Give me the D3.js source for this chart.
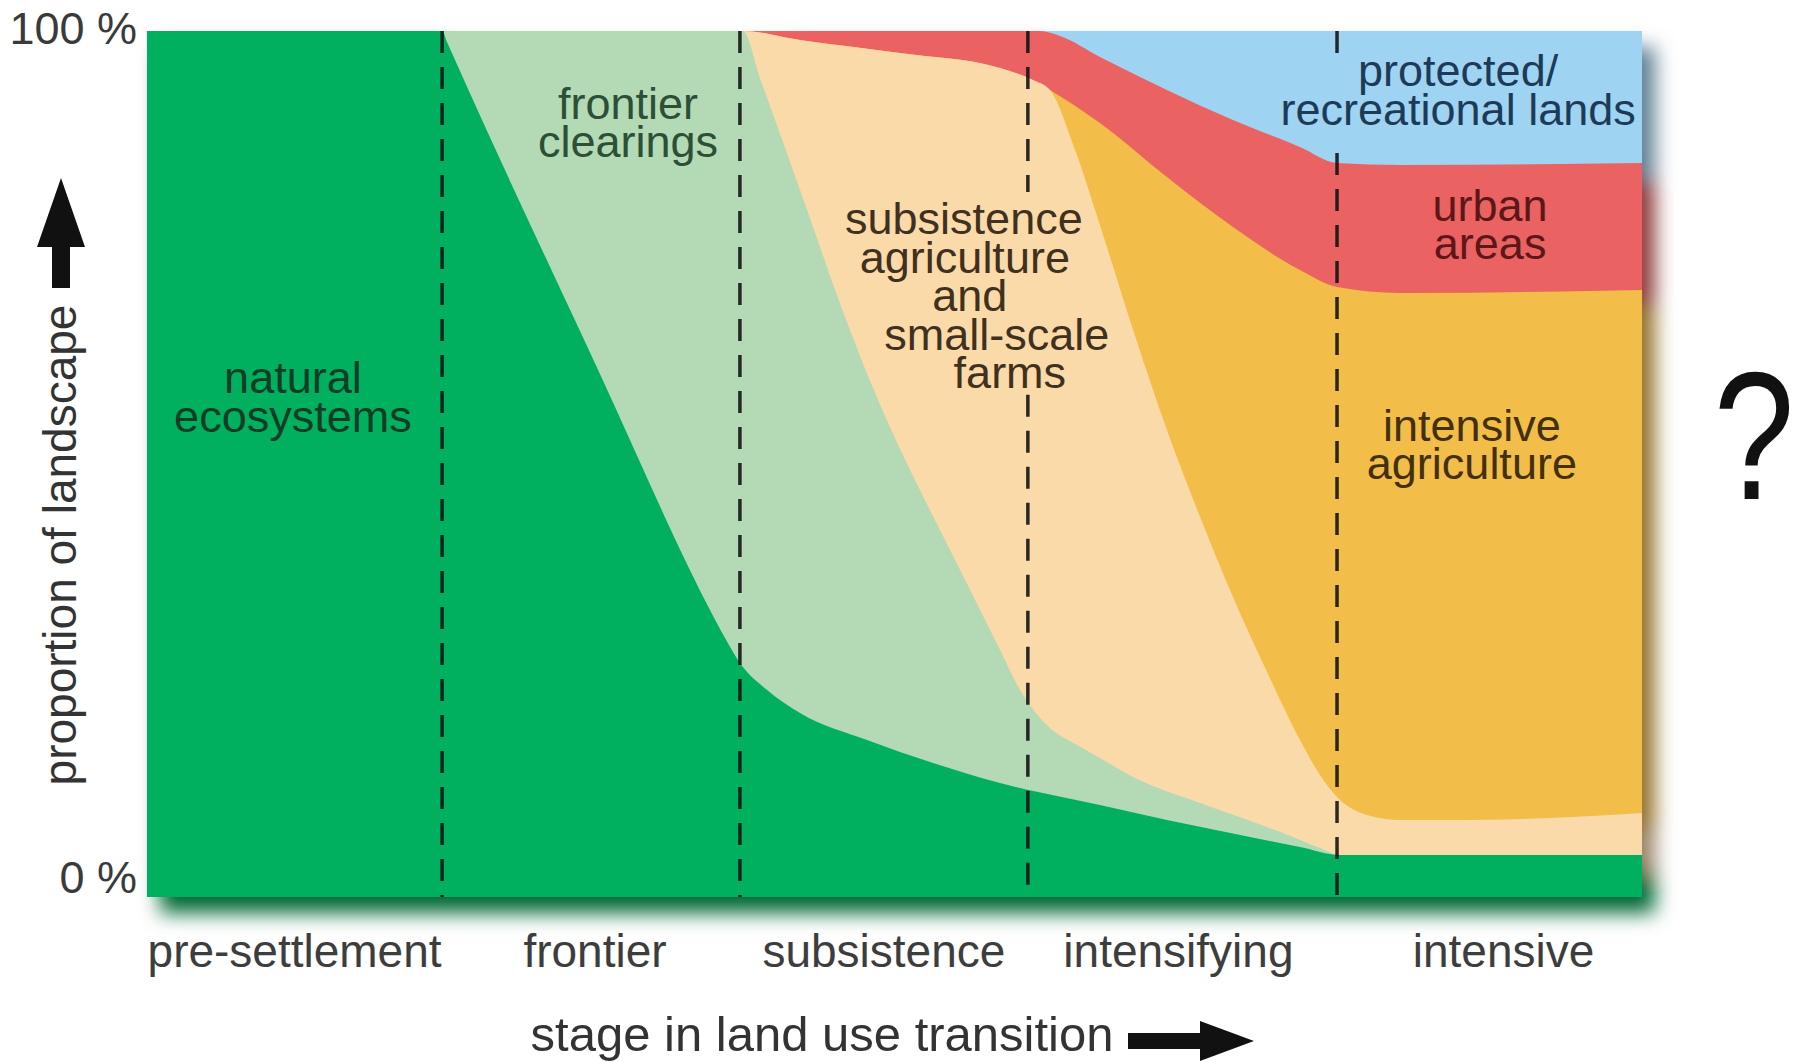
<!DOCTYPE html>
<html>
<head>
<meta charset="utf-8">
<script src="https://cdn.jsdelivr.net/npm/d3@7"></script>
<style>
  html, body { margin: 0; padding: 0; background: #ffffff; }
  svg { display: block; }
  text { font-family: "Liberation Sans", Arial, Helvetica, sans-serif; }
</style>
</head>
<body>
<svg id="chart" width="1800" height="1062"></svg>
<script>
// ---------------- DATA ----------------
// x: position along the land-use transition (0..5, one unit per stage)
// y: cumulative share of the landscape (%) at the top of each layer
const stages = ["pre-settlement", "frontier", "subsistence", "intensifying", "intensive"];
const stageDividers = [0.987, 1.983, 2.946, 3.98];

const yTickValues = [0, 100];

const layerNames = ["protected/recreational lands", "urban areas", "intensive agriculture",
                    "subsistence agriculture and small-scale farms", "frontier clearings", "natural ecosystems"];

const protectedTop = [[0, 100], [5, 100]];

const urbanTop = [[0, 100], [2.987, 100], [3.054, 99.42], [3.187, 97.0], [3.411, 93.19], [3.632, 89.72],
                  [3.856, 86.61], [3.98, 84.76], [4.191, 84.53], [5, 84.76]];

const intensiveTop = [[0, 100], [1.993, 100], [2.184, 98.96], [2.518, 97.46], [2.853, 95.73], [2.963, 94.34],
                      [3.02, 93.19], [3.187, 89.38], [3.411, 83.14], [3.632, 77.37], [3.856, 72.4],
                      [3.98, 70.44], [4.191, 69.75], [5, 70.09]];

const subsistenceTop = [[0, 100], [1.993, 100], [2.184, 98.96], [2.518, 97.46], [2.853, 95.73], [2.963, 94.34],
                        [3.02, 93.19], [3.104, 86.26], [3.187, 77.6], [3.298, 65.47], [3.411, 53.93],
                        [3.522, 43.88], [3.632, 34.64], [3.746, 25.98], [3.856, 18.13], [3.923, 14.09],
                        [3.98, 11.55], [4.08, 9.47], [4.191, 8.89], [4.415, 8.89], [4.692, 9.12], [5, 9.7]];

const frontierTop = [[0, 100], [1.993, 100], [2.05, 94.57], [2.184, 81.64], [2.351, 65.47], [2.452, 56.81],
                     [2.552, 49.31], [2.652, 42.38], [2.753, 35.45], [2.853, 28.52], [2.92, 23.9],
                     [2.97, 21.36], [3.02, 19.52], [3.104, 17.67], [3.187, 16.05], [3.298, 13.86],
                     [3.522, 10.85], [3.799, 7.39], [3.923, 5.66], [3.99, 4.85], [5, 4.85]];

const naturalTop = [[0, 100], [0.987, 100], [1.003, 98.75], [1.515, 60.4], [1.883, 33.14], [1.933, 29.9],
                    [1.983, 27.02], [2.074, 23.9], [2.184, 21.25], [2.408, 18.13], [2.629, 15.47],
                    [2.853, 13.16], [3.187, 10.62], [3.411, 8.89], [3.689, 6.93], [3.856, 5.77],
                    [3.99, 4.85], [5, 4.85]];

const layerTops = [protectedTop, urbanTop, intensiveTop, subsistenceTop, frontierTop, naturalTop];

// label texts (one entry per line)
const naturalLabel = ["natural", "ecosystems"];
const frontierLabel = ["frontier", "clearings"];
const subsistenceLabel = ["subsistence", "agriculture", "and", "small-scale", "farms"];
const intensiveLabel = ["intensive", "agriculture"];
const urbanLabel = ["urban", "areas"];
const protectedLabel = ["protected/", "recreational lands"];

// parts of the divider lines hidden behind labels ([from %, to %])
const dividerGaps = [[], [], [[58.0, 81.4]], [[85.9, 96.4]]];

// ---------------- STYLE / LAYOUT ----------------
const layerColors = ["#9fd3f2", "#ea6262", "#f3bd48", "#fbdaa9", "#b3d9b5", "#00b05f"];
const labelColors = {
  natural: "#123d24", frontier: "#2c4f36", subsistence: "#3f3020",
  intensive: "#43300c", urban: "#5c1717", protected: "#1d3b57"
};
const stageLabelNudge = [0, 4, 0, -4, 14];

const svg = d3.select("#chart");
const plotL = 147, plotR = 1642, plotT = 31, plotB = 897;

const x = d3.scaleLinear().domain([0, 5]).range([plotL, plotR]);
const y = d3.scaleLinear().domain([0, 100]).range([plotB, plotT]);

// shadow filter (blurred, darkened, offset copy of the graphic)
const defs = svg.append("defs");
const f = defs.append("filter").attr("id", "shadow")
  .attr("x", "-3%").attr("y", "-3%").attr("width", "110%").attr("height", "114%");
f.append("feGaussianBlur").attr("in", "SourceGraphic").attr("stdDeviation", 10).attr("result", "b");
f.append("feOffset").attr("in", "b").attr("dx", 13).attr("dy", 16).attr("result", "o");
f.append("feColorMatrix").attr("in", "o").attr("type", "matrix")
  .attr("values", "0.32 0 0 0 0  0 0.32 0 0 0  0 0 0.32 0 0  0 0 0 1 0").attr("result", "d");
const fm = f.append("feMerge");
fm.append("feMergeNode").attr("in", "d");
fm.append("feMergeNode").attr("in", "SourceGraphic");

defs.append("clipPath").attr("id", "plotclip")
  .append("rect").attr("x", plotL).attr("y", plotT).attr("width", plotR - plotL).attr("height", plotB - plotT);

const area = d3.area()
  .x(d => x(d[0]))
  .y0(y(0))
  .y1(d => y(d[1]))
  .curve(d3.curveMonotoneX);

const plot = svg.append("g").attr("filter", "url(#shadow)");
const inner = plot.append("g").attr("clip-path", "url(#plotclip)");

inner.selectAll("path.layer")
  .data(layerTops)
  .join("path")
  .attr("class", "layer")
  .attr("d", d => area(d))
  .attr("fill", (d, i) => layerColors[i])
  .append("title").text((d, i) => layerNames[i]);

// divider dashed lines
stageDividers.forEach((dv, i) => {
  const gaps = dividerGaps[i].slice().sort((a, b) => b[1] - a[1]);
  let segs = [];
  let top = 100;
  gaps.forEach(g => { segs.push([top, g[1]]); top = g[0]; });
  segs.push([top, 0]);
  segs.forEach(s => {
    svg.append("line")
      .attr("x1", x(dv)).attr("x2", x(dv))
      .attr("y1", y(s[0])).attr("y2", y(s[1]))
      .attr("stroke", "#141414")
      .attr("stroke-opacity", 0.9)
      .attr("stroke-width", 3.5)
      .attr("stroke-dasharray", "22,14");
  });
});

// y axis ticks
const yAxis = d3.axisLeft(y).tickValues(yTickValues).tickFormat(d => d + " %").tickSize(0).tickPadding(10);
const ya = svg.append("g").attr("transform", `translate(${plotL},0)`).call(yAxis);
ya.select(".domain").remove();
ya.selectAll("text")
  .attr("font-size", 45)
  .attr("fill", "#3a3a3a")
  .attr("font-family", "Liberation Sans, Arial, sans-serif")
  .attr("dy", "0.32em")
  .attr("transform", d => d === 0 ? "translate(0,-19)" : "translate(0,-2)");

// stage labels (centered in each stage band)
const bounds = [0, ...stageDividers, 5];
svg.append("g").selectAll("text")
  .data(stages)
  .join("text")
  .attr("x", (d, i) => x((bounds[i] + bounds[i + 1]) / 2) + stageLabelNudge[i])
  .attr("y", 950)
  .attr("dy", "0.36em")
  .attr("text-anchor", "middle")
  .attr("font-size", 46)
  .attr("fill", "#3d3d3d")
  .text(d => d);

// x title + arrow
svg.append("text")
  .attr("x", 822).attr("y", 1033).attr("dy", "0.36em")
  .attr("text-anchor", "middle").attr("font-size", 49).attr("fill", "#333")
  .text("stage in land use transition");
svg.append("path")
  .attr("d", "M1128,1033 L1200,1033 L1200,1021 L1254,1041 L1200,1061 L1200,1049 L1128,1049 Z")
  .attr("fill", "#111");

// y title + arrow
svg.append("text")
  .attr("transform", "translate(76,545) rotate(-90)")
  .attr("text-anchor", "middle").attr("font-size", 46).attr("fill", "#333")
  .text("proportion of landscape");
svg.append("path")
  .attr("d", "M52,288 L52,247 L37,247 L61,178 L85,247 L70,247 L70,288 Z")
  .attr("fill", "#111");

// region labels
function label(lines, color, cx, cy0, gap, dxs) {
  svg.append("g").selectAll("text")
    .data(lines)
    .join("text")
    .attr("x", (d, i) => x(cx) + (dxs ? dxs[i] : 0))
    .attr("y", (d, i) => y(cy0) + i * gap)
    .attr("dy", "0.36em")
    .attr("text-anchor", "middle")
    .attr("font-size", 45)
    .attr("fill", color)
    .text(d => d);
}
label(naturalLabel, labelColors.natural, 0.488, 60.05, 39);
label(frontierLabel, labelColors.frontier, 1.609, 91.69, 38);
label(subsistenceLabel, labelColors.subsistence, 2.732, 78.41, 38.5, [0, 1, 6, 33, 46]);
label(protectedLabel, labelColors.protected, 4.385, 95.5, 39);
label(urbanLabel, labelColors.urban, 4.492, 79.9, 38);
label(intensiveLabel, labelColors.intensive, 4.431, 54.5, 38);

// question mark
svg.append("text")
  .attr("transform", "translate(1754,499) scale(0.8,1)")
  .attr("text-anchor", "middle")
  .attr("font-size", 182)
  .attr("fill", "#111")
  .text("?");
</script>
</body>
</html>
